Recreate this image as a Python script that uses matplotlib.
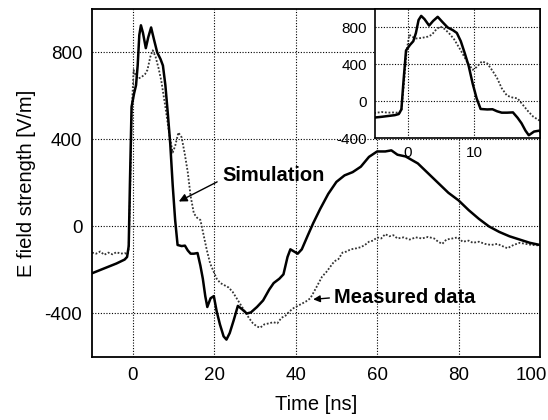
# E field waveform: simulation vs measured data, with zoomed inset
import numpy as np
import matplotlib.pyplot as plt
from matplotlib.transforms import ScaledTranslation

plt.rcParams['font.family'] = ['Liberation Sans', 'DejaVu Sans']
plt.rcParams['axes.unicode_minus'] = False

# simulation (solid) - time [ns], field [V/m]
sim_t = [-10, -8, -6, -4, -2, -1.4, -1.0, -0.7, -0.3, 0.3, 0.8, 1.2, 1.6, 2.0,
         2.5, 3.2, 3.8, 4.5, 5.2, 6.0, 6.8, 7.4, 8.0, 8.6, 9.2, 9.8, 10.4,
         11.0, 12.0, 12.8, 13.5, 14.2, 15.0, 15.9, 16.6, 17.2, 17.8, 18.3,
         19.1, 19.9, 20.6, 21.4, 22.3, 23.0, 23.8, 24.8, 25.8, 26.8, 28.0,
         29.0, 30.5, 32.0, 33.5, 34.6, 36.0, 37.0, 38.0, 38.7, 39.6, 40.5,
         41.5, 43.0, 44.3, 46.0, 48.0, 50.0, 52.0, 54.0, 56.0, 58.0, 60.0,
         62.0, 63.5, 65.0, 67.0, 70.0, 72.5, 75.0, 77.5, 80.0, 82.5, 85.0,
         87.5, 90.0, 92.5, 95.0, 97.5, 100.0]
sim_v = [-215, -200, -185, -170, -152, -140, -90, 200, 550, 610, 650, 740, 880,
         925, 890, 820, 870, 915, 860, 800, 770, 740, 650, 520, 380, 190, 30,
         -85, -90, -88, -110, -125, -125, -122, -180, -240, -320, -370,
         -330, -320, -390, -450, -505, -520, -490, -430, -365, -380, -400,
         -395, -370, -340, -290, -260, -240, -220, -140, -105, -115, -125,
         -105, -40, 15, 80, 150, 205, 235, 250, 275, 320, 345,
         345, 350, 330, 322, 290, 245, 200, 155, 120, 75, 35,
         0, -25, -45, -60, -75, -85]

# measured data (dotted)
meas_t = [-10, -9, -8, -7, -6, -5, -4, -3, -2, -1.3, -1.0, -0.6, -0.2, 0.2,
          0.6, 1.2, 2.0, 3.0, 3.6, 4.3, 4.9, 5.6, 6.3, 7.0, 8.0, 9.0, 9.8,
          10.4, 11.2, 12.0, 12.8, 13.5, 14.2, 15.0, 15.8, 16.6, 17.4, 18.2,
          19.0, 19.8, 20.6, 21.5, 22.5, 23.5, 24.5, 25.5, 26.5, 27.5, 28.5,
          29.5, 30.5, 31.3, 32.3, 33.5, 34.5, 35.5, 36.5, 37.5, 38.5, 39.5,
          40.5, 41.5, 42.5, 43.6, 44.5, 45.5, 46.5, 47.5, 48.5, 49.5, 50.5,
          51.5, 52.5, 53.5, 55.0, 56.0, 57.0, 58.0, 59.0, 60.0, 61.0, 62.0,
          63.0, 64.0, 65.0, 66.5, 68.0, 69.5, 71.0, 72.5, 74.0, 75.0, 76.0,
          77.0, 78.5, 79.8, 81.0, 82.5, 83.5, 85.0, 86.5, 88.0, 89.5, 91.0,
          92.0, 93.5, 95.0, 96.5, 98.0, 100.0]
meas_v = [-120, -125, -115, -130, -120, -128, -118, -125, -122, -128, -100, 200,
          550, 720, 700, 680, 685, 700, 720, 780, 810, 780, 730, 670, 550, 420, 340,
          370, 432, 410, 330, 250, 140, 60, 40, 30, -40, -110,
          -170, -205, -240, -260, -270, -280, -300, -330, -360, -390, -420,
          -445, -460, -465, -450, -445, -440, -445, -420, -410, -390, -375,
          -365, -355, -345, -330, -300, -265, -230, -210, -185, -160, -150,
          -120, -115, -105, -100, -95, -85, -70, -65, -50, -55, -35,
          -45, -40, -55, -50, -60, -50, -55, -48, -55, -70, -80,
          -60, -55, -50, -70, -65, -75, -70, -80, -85, -80, -92,
          -100, -85, -75, -80, -85, -87]

x_ticks = [0, 20, 40, 60, 80, 100]
y_ticks = [-400, 0, 400, 800]
inset_x_ticks = [0, 10]
inset_y_ticks = [-400, 0, 400, 800]

grid_kw = dict(color='black', linestyle=(0, (1, 1.5)), linewidth=0.8)
sim_kw = dict(color='black', linewidth=1.8)
meas_kw = dict(color='#333333', linestyle=(0, (1, 1)), linewidth=1.3)

fig = plt.figure(figsize=(5.48, 4.2), dpi=100)
ax = fig.add_axes([0.168, 0.15, 0.8174, 0.8286])

ax.plot(meas_t, meas_v, **meas_kw)
ax.plot(sim_t, sim_v, **sim_kw)
ax.set_xlim(-10, 100)
ax.set_ylim(-600, 1000)
ax.set_xticks(x_ticks)
ax.set_yticks(y_ticks)
ax.tick_params(length=0, labelsize=13.5, pad=7)
ax.grid(True, **grid_kw)
for s in ax.spines.values():
    s.set_linewidth(1.3)
ax.set_xlabel('Time [ns]', fontsize=14.5, labelpad=8)
ax.set_ylabel('E field strength [V/m]', fontsize=14.5, labelpad=6)

# last x label sits flush with the right edge, as in the original
last = ax.xaxis.get_major_ticks()[-1].label1
last.set_horizontalalignment('right')
last.set_transform(last.get_transform() + ScaledTranslation(0.07, 0, fig.dpi_scale_trans))

ax.annotate('Simulation', xy=(11.3, 115), xytext=(22, 235),
            fontsize=14.5, fontweight='bold', ha='left', va='center',
            arrowprops=dict(arrowstyle='-|>', color='black', lw=1.0,
                            mutation_scale=12, shrinkA=2, shrinkB=0,
                            relpos=(0, 0.3)))
ax.annotate('Measured data', xy=(44.3, -335), xytext=(49.3, -327),
            fontsize=14.5, fontweight='bold', ha='left', va='center',
            arrowprops=dict(arrowstyle='-|>', color='black', lw=1.0,
                            mutation_scale=10, shrinkA=1, shrinkB=0,
                            relpos=(0, 0.5)))

# inset: first 20 ns
axi = fig.add_axes([0.6843, 0.6714, 0.3011, 0.3072])
axi.set_facecolor('white')
axi.plot(meas_t, meas_v, **meas_kw)
axi.plot(sim_t, sim_v, **sim_kw)
axi.set_xlim(-5, 20)
axi.set_ylim(-400, 1000)
axi.set_xticks(inset_x_ticks)
axi.set_yticks(inset_y_ticks)
axi.tick_params(length=0, labelsize=11, pad=6)
axi.grid(True, **grid_kw)
for s in axi.spines.values():
    s.set_linewidth(1.2)

fig.savefig('out.png', dpi=100)
